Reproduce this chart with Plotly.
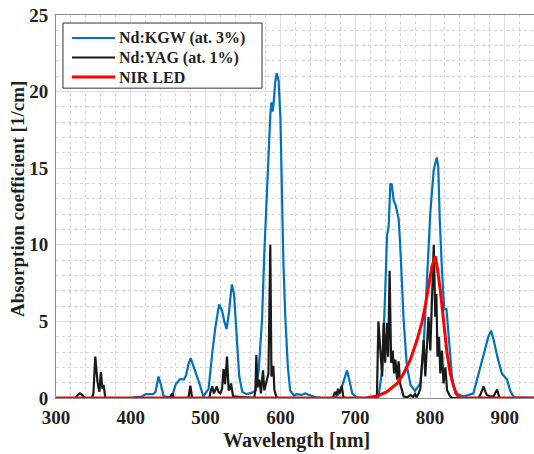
import plotly.graph_objects as go

# Nd:KGW (at. 3%) absorption spectrum
kgw_wl = [300, 400, 405, 415, 420, 430, 433, 435, 437, 440, 444, 455, 460, 466, 471,
          474, 477, 480, 483, 487, 492, 497, 504, 509, 513, 518, 522, 525, 528, 531,
          533, 535, 538, 541, 545, 549, 555, 562, 567, 571, 575.5, 578.5, 582, 584,
          586.5, 588, 589.6, 591, 593, 595, 597.6, 600, 602, 604, 606.5, 610, 613,
          618, 622, 628, 633, 640, 647, 655, 673, 680, 684, 689, 692, 696, 702, 710,
          731, 736, 740, 742.5, 744.7, 747, 749, 751.4, 754, 756, 758, 760, 762,
          764.7, 769, 774, 780, 785, 787, 791.5, 796, 800.4, 805, 809, 811, 813,
          816, 819, 822, 825, 829.5, 834, 845, 858, 865, 872, 878, 881.6, 885, 890,
          896, 903, 907, 912, 940]
kgw_abs = [0, 0, 0.05, 0.1, 0.25, 0.25, 0.4, 1.0, 1.4, 0.9, 0.1, 0.05, 0.9, 1.25, 1.2,
           1.5, 2.2, 2.6, 2.2, 1.7, 0.9, 0.1, 0.6, 3.0, 4.6, 6.1, 5.7, 5.0, 4.5, 5.5,
           6.6, 7.4, 6.8, 4.2, 1.4, 0.4, 0.25, 0.35, 0.5, 1.8, 5.2, 9.5, 13.5, 16.2,
           18.5, 19.3, 18.7, 19.3, 20.6, 21.2, 20.7, 18.3, 13.5, 8.8, 5.3, 2.0, 0.5,
           0.15, 0.25, 0.2, 0.3, 0.15, 0.05, 0.0, 0.0, 0.4, 1.0, 1.8, 1.2, 0.3, 0.05, 0.0,
           0.05, 1.8, 6.8, 10.6, 11.2, 14.0, 13.9, 12.9, 12.6, 12.0, 11.7, 10.1, 8.0,
           5.1, 2.1, 0.85, 0.45, 0.8, 0.95, 3.4, 8.0, 12.1, 14.9, 15.7, 15.1, 11.6,
           8.3, 5.8, 5.8, 3.9, 1.3, 0.3, 0.1, 0.3, 1.6, 2.9, 4.0, 4.4, 3.8, 2.7, 1.6,
           1.2, 0.5, 0.05, 0]

# Nd:YAG (at. 1%) absorption spectrum
yag_wl = [300, 326, 329, 332, 335, 339, 348, 350, 352.5, 354, 355.6, 358, 360, 362,
          363.6, 366, 452, 455, 458, 477, 479.6, 482, 505, 507, 509, 511, 513, 515,
          517, 519.7, 522, 524, 526, 528.6, 530.8, 532.5, 534, 536.7, 565, 566.5,
          567.8, 569.5, 571.8, 574, 576.7, 578.5, 580, 582, 584, 586.5, 588, 590.5,
          592, 594.5, 596, 670, 673, 675, 677, 679, 682, 684, 686, 727, 729, 731,
          733.6, 736, 738, 740, 742.5, 744, 746, 748, 750, 752, 753.7, 756, 758, 760,
          762, 764.7, 770, 774, 777, 780, 782, 784.8, 787, 789, 791.5, 793.7, 796,
          798, 800.4, 802.7, 805, 807, 808.5, 810, 812, 813.8, 816, 818, 820.5,
          822.8, 825, 827, 830, 865, 868, 871.7, 874, 876, 880, 885, 889.6, 893, 940]
yag_abs = [0, 0, 0.2, 0.3, 0.2, 0, 0, 0.3, 2.7, 1.5, 1.0, 0.4, 1.7, 0.6,
           0.85, 0, 0, 0.3, 0, 0, 0.8, 0, 0, 0.5, 0.75, 0.3, 0.5, 0.75,
           0.4, 0.3, 0.6, 1.9, 0.9, 2.7, 0.5, 0.6, 0.95, 0.1, 0, 0.5,
           2.8, 0.7, 1.2, 0.3, 1.8, 0.5, 0.8, 1.2, 1.6, 10.0, 1.4, 2.1,
           0.5, 0.1, 0, 0, 0.4, 0.2, 0.6, 0.3, 0.8, 0.1, 0, 0, 0.1, 5.0,
           3.1, 1.4, 4.9, 2.3, 4.9, 2.7, 8.3, 2.3, 3.1, 1.6, 2.5, 1.2, 2.4, 0.95,
           0.6, 0.1, 0.05, 0.2, 0.05, 0.25, 0.05, 0.3, 0.6, 2.0, 3.8, 1.4, 3.1,
           5.3, 3.1, 7.5, 10.0, 5.3, 6.8, 2.7, 4.0, 1.6, 3.1, 0.95, 2.0,
           0.5, 0.3, 0.1, 0, 0, 0.3, 0.75, 0.4, 0.2, 0.1, 0.1, 0.55, 0, 0]

# NIR LED emission profile (same axis)
led_wl = [300, 715, 729, 742.5, 756, 764.7, 773.7, 782.7, 789, 793.7, 798, 802.7,
          807, 810, 813.8, 818, 822.8, 827, 831.6, 836, 840.6, 940]
led_val = [0, 0, 0.13, 0.41, 0.95, 1.6, 2.5, 3.8, 4.9, 6.0, 7.3, 8.6,
           9.25, 8.4, 7.0, 4.9, 2.9, 1.6, 0.75, 0.2, 0, 0]

x_ticks = [300, 400, 500, 600, 700, 800, 900]
y_ticks = [0, 5, 10, 15, 20, 25]

SERIF = "Liberation Serif"
INK = "#1f1f1f"

series = [
    ("Nd:KGW (at. 3%)", kgw_wl, kgw_abs, "#0072BD", 2.2),
    ("Nd:YAG (at. 1%)", yag_wl, yag_abs, "#1a1a1a", 2.2),
    ("NIR LED", led_wl, led_val, "#FF0000", 3),
]

fig = go.Figure()
for name, xs, ys, color, width in series:
    fig.add_trace(go.Scatter(x=xs, y=ys, mode="lines", name=name,
                             line=dict(color=color, width=width), showlegend=False))

# Boxed key in the upper-left corner (paper coordinates)
box_x0, box_x1, box_y0, box_y1 = 0.0146, 0.431, 0.809, 0.979
key_x0, key_x1, label_x = 0.0335, 0.1234, 0.1276
row_y = [0.940, 0.889, 0.838]

shapes = [dict(type="rect", xref="paper", yref="paper", x0=box_x0, x1=box_x1,
               y0=box_y0, y1=box_y1, line=dict(color="#333333", width=1),
               fillcolor="white", layer="above")]
annotations = []
for (name, _, _, color, width), ry in zip(series, row_y):
    shapes.append(dict(type="line", xref="paper", yref="paper", x0=key_x0, x1=key_x1,
                       y0=ry, y1=ry, line=dict(color=color, width=width), layer="above"))
    annotations.append(dict(text="<b>%s</b>" % name, xref="paper", yref="paper",
                            x=label_x, y=ry, xanchor="left", yanchor="middle",
                            showarrow=False,
                            font=dict(family=SERIF, size=16, color=INK)))

annotations += [
    dict(text="<b>Wavelength [nm]</b>", xref="paper", yref="paper", x=0.504, y=-0.112,
         xanchor="center", yanchor="middle", showarrow=False,
         font=dict(family=SERIF, size=20, color=INK)),
    dict(text="<b>Absorption coefficient [1/cm]</b>", xref="paper", yref="paper",
         x=-0.079, y=0.52, xanchor="center", yanchor="middle", textangle=-90,
         showarrow=False, font=dict(family=SERIF, size=19, color=INK)),
]

fig.update_layout(
    width=534, height=454,
    margin=dict(l=56, r=0, t=15, b=56),
    paper_bgcolor="white", plot_bgcolor="white",
    font=dict(family=SERIF, color=INK, size=19),
    showlegend=False,
    shapes=shapes,
    annotations=annotations,
)
fig.update_xaxes(range=[300, 939], tickvals=x_ticks,
                 ticktext=["<b>%d</b>" % v for v in x_ticks], ticks="",
                 ticklabelstandoff=2,
                 showline=True, linecolor="#8c8c8c", linewidth=1, mirror=True,
                 zeroline=False, showgrid=True, gridcolor="#dedede", gridwidth=1,
                 minor=dict(dtick=20, tick0=300, showgrid=True, gridcolor="#d6d6d6",
                            griddash="dot", gridwidth=1),
                 tickfont=dict(family=SERIF, size=19, color=INK))
fig.update_yaxes(range=[0, 25], tickvals=y_ticks,
                 ticktext=["<b>%d</b>" % v for v in y_ticks], ticks="",
                 ticklabelstandoff=3,
                 showline=True, linecolor="#8c8c8c", linewidth=1, mirror=False,
                 zeroline=False, showgrid=True, gridcolor="#dedede", gridwidth=1,
                 minor=dict(dtick=1, tick0=0, showgrid=True, gridcolor="#d6d6d6",
                            griddash="dot", gridwidth=1),
                 tickfont=dict(family=SERIF, size=19, color=INK))

fig.write_html("out.html")
